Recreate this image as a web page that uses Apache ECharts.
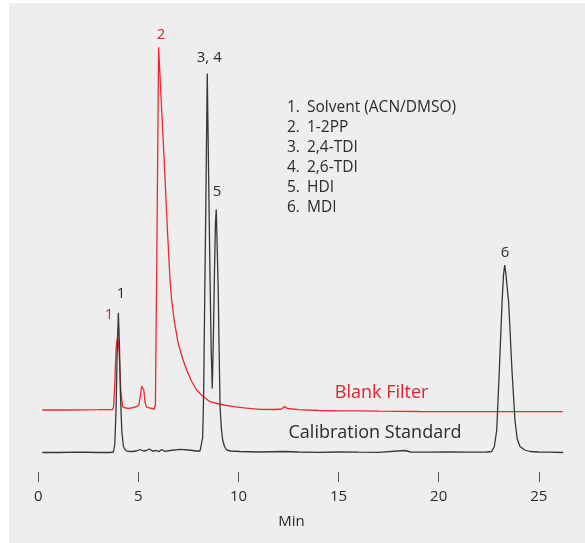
<!DOCTYPE html>
<html>
<head>
<meta charset="utf-8">
<script src="https://cdn.jsdelivr.net/npm/echarts@6/dist/echarts.min.js"></script>
<style>
html,body{margin:0;padding:0;background:#ffffff;}
#chart{width:585px;height:543px;}
</style>
</head>
<body>
<div id="chart"></div>
<script>
// Retention time (min) and detector response (arbitrary units) — Calibration Standard
var calTime = [0.2,1.0,2.0,3.0,3.6,3.75,3.82,3.88,3.94,4.00,4.05,4.10,4.17,4.25,4.35,4.45,4.7,4.9,5.08,5.25,5.40,5.55,5.70,5.90,6.02,6.16,6.30,6.6,7.08,7.5,7.9,8.08,8.16,8.21,8.26,8.31,8.37,8.44,8.51,8.58,8.64,8.69,8.74,8.80,8.85,8.89,8.94,8.99,9.03,9.08,9.14,9.21,9.30,9.41,9.6,10.07,11,12.3,13,14,15,16,17,18.3,18.6,19.5,20.5,21.5,22.4,22.65,22.78,22.90,23.03,23.17,23.24,23.30,23.36,23.50,23.66,23.81,23.92,24.06,24.3,24.56,25,25.5,26.22];
var calValue = [0,0,0.3,0,0,0.5,8,40,100,139.8,110,60,22,6,2.5,1.2,1.0,1.5,3,1.5,2,3.5,1.5,2,0.8,3,1.2,2,3.2,2.5,1.5,1.5,3,15,60,150,250,379,275,172,100,64,110,180,230,243,202,160,105,46,25,12.5,6,2.5,1.5,1,0.5,1,0.5,0.2,0.5,0.3,0.2,2,0.5,0.3,0.5,0.3,0.5,1,6,22.5,82.5,152,178,187.5,178,149,82.5,32.5,14,6,2.5,1,0.5,0.3,0];

// Blank Filter (response relative to its own baseline)
var blankTime = [0.2,1.5,3.0,3.70,3.76,3.82,3.88,3.95,4.00,4.05,4.12,4.21,4.35,4.55,4.75,4.91,5.02,5.10,5.16,5.21,5.27,5.33,5.40,5.55,5.70,5.80,5.85,5.88,5.91,5.96,6.01,6.15,6.30,6.45,6.58,6.66,6.80,6.99,7.2,7.41,7.65,7.91,8.2,8.58,9.0,9.74,10.4,11.07,11.8,12.15,12.3,12.45,13,14,15,16,17,18,19,20,22,24,26.19];
var blankValue = [0,0,0.3,0.5,3,25,60,72.7,68,53,20,3.3,2,1.7,2.5,3.3,5,14,24,25.7,20,8,3,2,1.5,1,5,70,130,246,362.7,305,245,180,130,110,88,66.7,52,40,29,20,14,8.3,6,3.3,1.8,0.7,0.5,1,3.5,1.5,0.3,-0.5,-0.8,-0.9,-1.2,-1.3,-1.5,-1.6,-1.7,-1.7,-1.7];
var blankOffset = 42.5; // vertical offset of the Blank Filter trace

var xTicks = [0,5,10,15,20,25];
var compoundNames = ['Solvent (ACN/DMSO)','1-2PP','2,4-TDI','2,6-TDI','HDI','MDI'];

// Peak annotations: [label, time, response]
var calPeakLabels = [['1',4.13,159.2],['3, 4',8.54,395.2],['5',8.93,260.8],['6',23.31,199.5]];
var blankPeakLabels = [['1',3.53,95],['2',6.13,375]];

function pairs(t, v, off){ var out=[]; for(var i=0;i<t.length;i++){ out.push([t[i], v[i]+(off||0)]); } return out; }

var RED='#f0272d', RED_TXT='#e8202a', BLK='#363636', TXT='#2b2b2b';
var FONT='Open Sans';

function mk(text, coord, color, size){
  return {name:text, coord:coord, symbol:'rect', symbolSize:1, itemStyle:{color:'rgba(0,0,0,0)'},
    label:{show:true, position:'inside', formatter:text, color:color, fontSize:size, fontFamily:FONT}};
}
function mp(list, color, off){
  return list.map(function(p){ return mk(p[0], [p[1], p[2]+(off||0)], color, 15); });
}

var legendLines = compoundNames.map(function(n,i){ return '{n|'+(i+1)+'.}{t|'+n+'}'; }).join('\n');

var chart = echarts.init(document.getElementById('chart'), null, {renderer:'canvas'});
chart.setOption({
  animation:false,
  backgroundColor:'#ffffff',
  graphic:[{type:'rect', z:-10, shape:{x:9,y:3,width:576,height:540}, style:{fill:'#eeeeee'}, silent:true}],
  title:{
    text:legendLines, left:287, top:98, padding:0,
    textStyle:{fontFamily:FONT, fontSize:15.5, fontWeight:'normal', color:TXT, lineHeight:20,
      rich:{n:{width:20, fontFamily:FONT, fontSize:15.5, color:TXT, lineHeight:20}, t:{fontFamily:FONT, fontSize:15.5, color:TXT, lineHeight:20}}}
  },
  grid:{left:38.3, top:32.5, width:530.5, height:439.5, containLabel:false},
  xAxis:{
    type:'value', min:0, max:26.5,
    name:'Min', nameLocation:'middle', nameGap:42,
    nameTextStyle:{fontFamily:FONT, fontSize:15, color:TXT, padding:[0,24,0,0]},
    axisLine:{show:false, onZero:false},
    axisTick:{show:true, length:10, inside:false, customValues:xTicks, lineStyle:{color:'#555555', width:1}},
    axisLabel:{show:true, customValues:xTicks, margin:17, fontFamily:FONT, fontSize:15, color:TXT},
    splitLine:{show:false}
  },
  yAxis:{type:'value', min:-19.5, max:420, show:false, splitLine:{show:false}},
  series:[
    {name:'Calibration Standard', type:'line', data:pairs(calTime, calValue), showSymbol:false, symbol:'none',
     lineStyle:{color:BLK, width:1.3}, itemStyle:{color:BLK}, z:3,
     markPoint:{silent:true, data: mp(calPeakLabels, TXT).concat([mk('Calibration Standard', [16.82,19.2], TXT, 18)])}},
    {name:'Blank Filter', type:'line', data:pairs(blankTime, blankValue, blankOffset), showSymbol:false, symbol:'none',
     lineStyle:{color:RED, width:1.3}, itemStyle:{color:RED}, z:2,
     markPoint:{silent:true, data: mp(blankPeakLabels, RED_TXT, blankOffset).concat([mk('Blank Filter', [17.15,59.2], RED_TXT, 18)])}}
  ]
});
</script>
</body>
</html>
